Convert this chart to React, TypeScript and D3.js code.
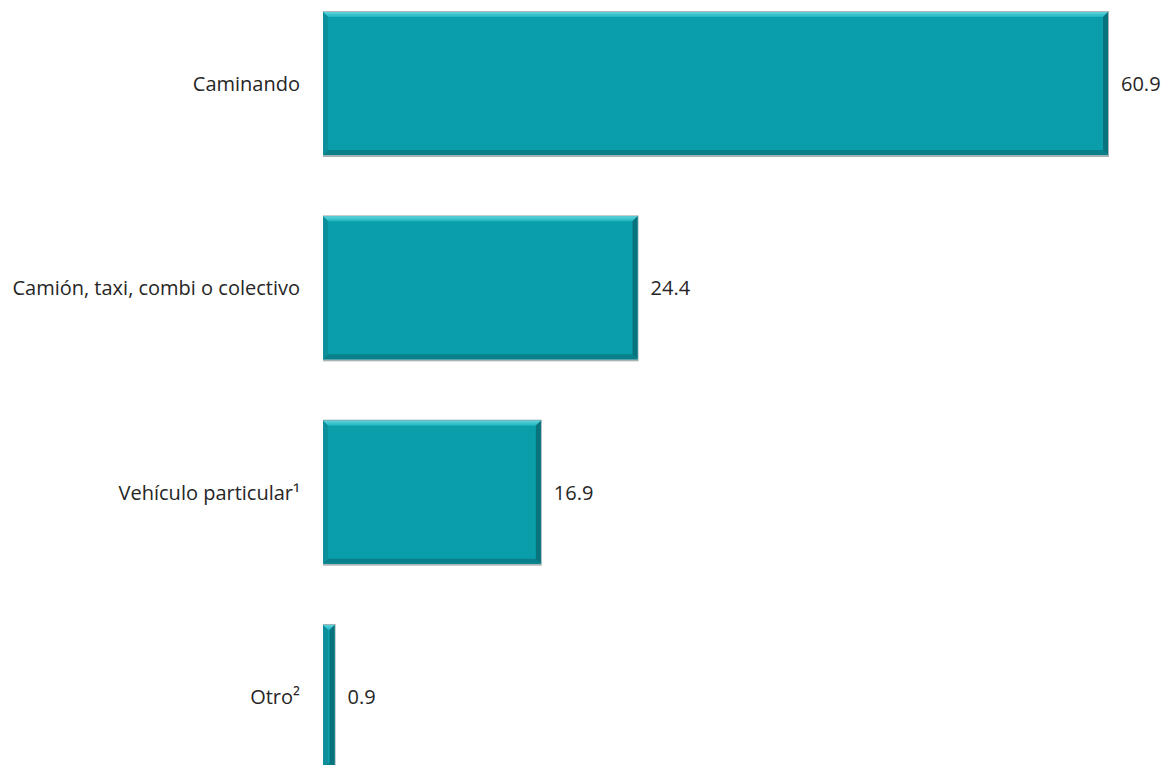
import React from "react";
import * as d3 from "d3";

const categories = ["Caminando", "Camión, taxi, combi o colectivo", "Vehículo particular¹", "Otro²"];
const values = [60.9, 24.4, 16.9, 0.9];

const W = 1164;
const H = 765;

export default function App() {
  const x = d3.scaleLinear().domain([0, 60.9]).range([323, 1108]);
  const y = d3.scaleBand<string>().domain(categories).range([-18.6, 798.6]).paddingInner(0.3).paddingOuter(0.15);
  const bw = y.bandwidth();
  const b = 5;
  return (
    <svg width={W} height={H} style={{ position: "absolute", left: 0, top: 0, background: "#fff" }} fontFamily="'Open Sans', 'Noto Sans', sans-serif">
      <defs>
        <linearGradient id="topg" x1="0" y1="0" x2="0" y2="1">
          <stop offset="0" stopColor="#5fd4dc" />
          <stop offset="1" stopColor="#1eb4c0" />
        </linearGradient>
      </defs>
      {categories.map((c, i) => {
        const x0 = x(0);
        const x1 = x(values[i]);
        const y0 = y(c)!;
        const y1 = y0 + bw;
        const w = x1 - x0;
        const bb = Math.min(b, w / 2);
        const cy = y0 + bw / 2;
        return (
          <g key={c}>
            <rect x={x0} y={y0 - 1} width={w + 1} height={bw + 3} fill="#a9b4b6" />
            <rect x={x0} y={y0} width={w} height={bw} fill="#0a9eab" />
            <polygon points={`${x0},${y0} ${x1},${y0} ${x1 - bb},${y0 + bb} ${x0 + bb},${y0 + bb}`} fill="url(#topg)" />
            <polygon points={`${x0},${y0} ${x0 + bb},${y0 + bb} ${x0 + bb},${y1 - bb} ${x0},${y1}`} fill="#0c8f9a" />
            <polygon points={`${x1},${y0} ${x1},${y1} ${x1 - bb},${y1 - bb} ${x1 - bb},${y0 + bb}`} fill="#08737c" />
            <polygon points={`${x0},${y1} ${x1},${y1} ${x1 - bb},${y1 - bb} ${x0 + bb},${y1 - bb}`} fill="#097f89" />
            <text x={300} y={cy} textAnchor="end" dominantBaseline="central" fontSize={20} fill="#262626">{c}</text>
            <text x={x1 + 13} y={cy} textAnchor="start" dominantBaseline="central" fontSize={20} fill="#262626">{values[i].toFixed(1)}</text>
          </g>
        );
      })}
    </svg>
  );
}
